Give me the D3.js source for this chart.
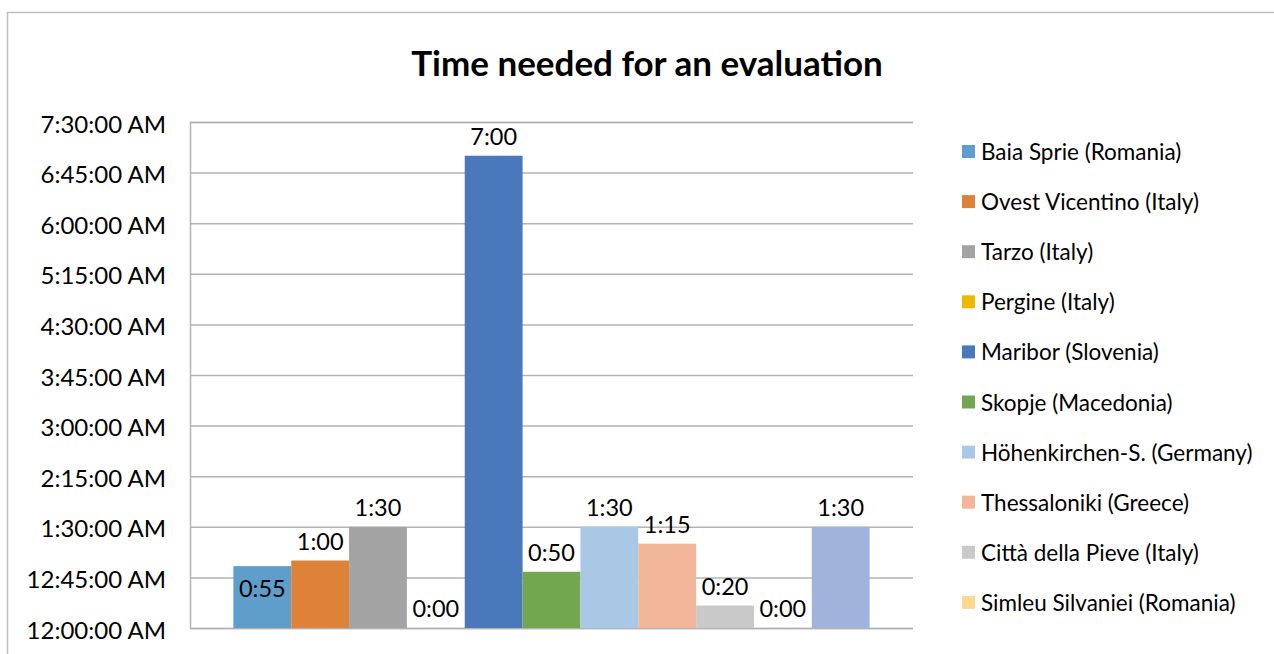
<!DOCTYPE html>
<html>
<head>
<meta charset="utf-8">
<script src="https://cdn.jsdelivr.net/npm/d3@7"></script>
<style>
  html, body { margin: 0; padding: 0; background: #fff; }
  svg { display: block; }
  text { font-family: Lato, "Open Sans", sans-serif; fill: #000; }
</style>
</head>
<body>
<svg id="chart" width="1274" height="654"></svg>
<script>
// ---- data ----
const title = "Time needed for an evaluation";
const legendNames = [
  "Baia Sprie (Romania)",
  "Ovest Vicentino (Italy)",
  "Tarzo (Italy)",
  "Pergine (Italy)",
  "Maribor (Slovenia)",
  "Skopje (Macedonia)",
  "Höhenkirchen-S. (Germany)",
  "Thessaloniki (Greece)",
  "Città della Pieve (Italy)",
  "Simleu Silvaniei (Romania)"
];
// minutes per series (11th series is cut off from the legend)
const minutes = [55, 60, 90, 0, 420, 50, 90, 75, 20, 0, 90];
const colors = ["#5F9DCA", "#DD8237", "#A3A3A3", "#EDB900", "#4A79BB", "#72A74F",
                "#A9C8E6", "#F2B79A", "#C9C9C9", "#FFD88F", "#9FB3DB"];
const labelInside = [true, false, false, false, false, false, false, false, false, false, false];
const tickMinutes = [0, 45, 90, 135, 180, 225, 270, 315, 360, 405, 450];

// ---- layout ----
const svg = d3.select("#chart");
const plot = { left: 190, right: 913, top: 122, bottom: 628 };

// outer chart border
svg.append("path")
  .attr("d", "M7.5,660 L7.5,12.5 L1280,12.5")
  .attr("fill", "none").attr("stroke", "#BFBFBF").attr("stroke-width", 1.5);

svg.append("text")
  .attr("x", 647).attr("y", 76)
  .attr("text-anchor", "middle")
  .attr("font-size", 35).attr("font-weight", "bold")
  .text(title);

const y = d3.scaleLinear().domain([0, 450]).range([plot.bottom, plot.top]);
const x = d3.scaleBand().domain(d3.range(minutes.length))
  .range([plot.left, plot.right]).paddingInner(0).paddingOuter(0.75);

function tickFmt(m) {
  const h = Math.floor(m / 60), mm = m % 60;
  const hh = h === 0 ? 12 : h;
  return `${hh}:${String(mm).padStart(2, "0")}:00 AM`;
}
function labelFmt(m) {
  return `${Math.floor(m / 60)}:${String(m % 60).padStart(2, "0")}`;
}

// gridlines + y axis
const yAxis = d3.axisLeft(y).tickValues(tickMinutes).tickFormat(tickFmt)
  .tickSize(-(plot.right - plot.left)).tickPadding(24);
const gy = svg.append("g").attr("transform", `translate(${plot.left},0)`).call(yAxis);
gy.select(".domain").attr("stroke", "#B3B3B3").attr("stroke-width", 1.5);
gy.selectAll(".tick line").attr("stroke", "#B3B3B3").attr("stroke-width", 1.5);
gy.selectAll(".tick text").attr("font-size", 24).attr("font-family", "Lato, sans-serif")
  .attr("fill", "#000").attr("y", 2.5);

// bars
svg.append("g").selectAll("rect").data(minutes).join("rect")
  .attr("x", (d, i) => x(i))
  .attr("width", x.bandwidth())
  .attr("y", d => y(d))
  .attr("height", d => y(0) - y(d))
  .attr("fill", (d, i) => colors[i]);

// data labels
svg.append("g").selectAll("text").data(minutes).join("text")
  .attr("x", (d, i) => x(i) + x.bandwidth() / 2)
  .attr("y", (d, i) => labelInside[i] ? y(d) + 31 : y(d) - 11)
  .attr("text-anchor", "middle")
  .attr("font-size", 23.5)
  .text(d => labelFmt(d));

// legend
const lg = svg.append("g").selectAll("g").data(legendNames).join("g")
  .attr("transform", (d, i) => `translate(962, ${152 + i * 50.1})`);
lg.append("rect").attr("x", 0).attr("y", -7).attr("width", 13).attr("height", 13)
  .attr("fill", (d, i) => colors[i]);
lg.append("text").attr("x", 19).attr("y", 8).attr("font-size", 22.5).text(d => d);
</script>
</body>
</html>
